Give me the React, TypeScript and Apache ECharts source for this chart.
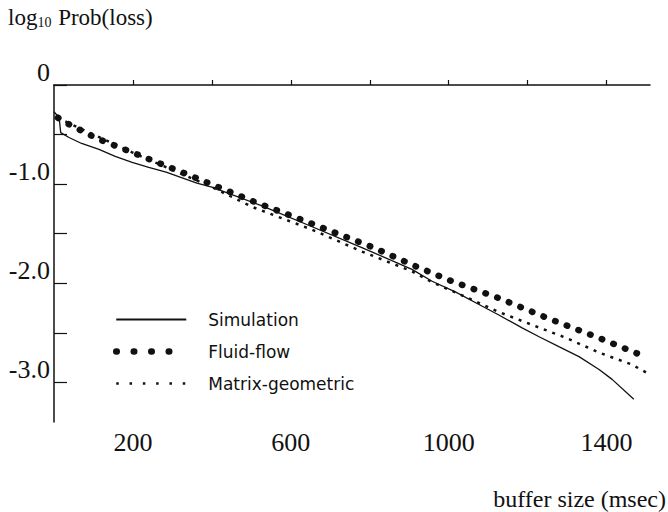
import React, { useEffect, useRef } from "react";
import * as echarts from "echarts";

const xSim = [0, 13, 17, 38, 70, 114, 155, 198, 240, 284, 362, 400, 527, 654, 780, 907, 958, 1018, 1084, 1127, 1186, 1229, 1279, 1330, 1381, 1414, 1469];
const ySim = [-0.27, -0.33, -0.48, -0.53, -0.59, -0.65, -0.72, -0.78, -0.83, -0.88, -0.99, -1.03, -1.22, -1.43, -1.64, -1.86, -1.98, -2.09, -2.23, -2.32, -2.45, -2.54, -2.64, -2.74, -2.87, -2.97, -3.17];

const xFluid = [10, 25, 109, 198, 324, 502, 654, 803, 917, 1008, 1127, 1249, 1373, 1497];
const yFluid = [-0.33, -0.37, -0.54, -0.68, -0.88, -1.17, -1.4, -1.63, -1.83, -1.98, -2.15, -2.35, -2.54, -2.74];

const xMatrix = [8, 198, 400, 502, 654, 780, 907, 958, 1044, 1127, 1211, 1297, 1381, 1464, 1500];
const yMatrix = [-0.33, -0.68, -1.03, -1.23, -1.46, -1.68, -1.88, -1.99, -2.14, -2.29, -2.42, -2.55, -2.7, -2.82, -2.9];

const xTicks = [200, 400, 600, 800, 1000, 1200, 1400];
const xLabels = [200, 600, 1000, 1400];
const yTicks = [0, -0.5, -1, -1.5, -2, -2.5, -3];
const yLabels = [0, -1, -2, -3];

const seriesNames = ["Simulation", "Fluid-flow", "Matrix-geometric"];

const pairs = (xs: number[], ys: number[]) => xs.map((x, i) => [x, ys[i]]);

export default function App() {
  const ref = useRef<HTMLDivElement>(null);
  useEffect(() => {
    if (!ref.current) return;
    const chart = echarts.init(ref.current, null, { renderer: "svg" });
    const serif = "Liberation Serif";
    chart.setOption({
      animation: false,
      backgroundColor: "#fff",
      grid: { left: 54, right: 18, top: 85, bottom: 90 },
      xAxis: {
        type: "value",
        min: 0,
        max: 1510,
        axisLine: { show: true, lineStyle: { color: "#111", width: 1.5 } },
        axisTick: { show: true, inside: true, length: 5, customValues: xTicks, lineStyle: { color: "#111", width: 1.2 } },
        axisLabel: {
          customValues: xLabels,
          fontFamily: serif,
          fontSize: 26,
          color: "#111",
          margin: 7,
          formatter: (v: number) => String(v),
        },
        splitLine: { show: false },
      },
      yAxis: {
        type: "value",
        min: -3.4,
        max: 0,
        axisLine: { show: true, lineStyle: { color: "#111", width: 1.5 } },
        axisTick: { show: true, inside: true, length: 13, customValues: yTicks, lineStyle: { color: "#111", width: 1.2 } },
        axisLabel: {
          customValues: yLabels,
          fontFamily: serif,
          fontSize: 26,
          color: "#111",
          margin: 4,
          verticalAlign: "bottom",
          lineHeight: 26,
          formatter: (v: number) => (v === 0 ? "0" : v.toFixed(1)),
        },
        splitLine: { show: false },
      },
      legend: {
        orient: "vertical",
        left: 113,
        top: 311,
        padding: 0,
        itemWidth: 70,
        itemHeight: 14,
        itemGap: 15,
        selectedMode: false,
        itemStyle: { opacity: 0, borderWidth: 0 },
        textStyle: {
          fontFamily: "DejaVu Sans",
          fontSize: 17,
          color: "#111",
          padding: [0, 0, 0, 17],
        },
        data: [
          { name: seriesNames[0] },
          { name: seriesNames[1], lineStyle: { type: [0.5, 17], width: 6.5, cap: "round" } },
          { name: seriesNames[2], lineStyle: { type: [2.5, 10.8], width: 2.5, cap: "butt" } },
        ],
      },
      series: [
        {
          name: seriesNames[0],
          type: "line",
          symbol: "none",
          data: pairs(xSim, ySim),
          lineStyle: { color: "#111", width: 1.3 },
          itemStyle: { color: "#111" },
        },
        {
          name: seriesNames[1],
          type: "line",
          symbol: "none",
          data: pairs(xFluid, yFluid),
          lineStyle: { color: "#111", width: 6.5, type: [0.5, 12], cap: "round" },
          itemStyle: { color: "#111" },
        },
        {
          name: seriesNames[2],
          type: "line",
          symbol: "none",
          data: pairs(xMatrix, yMatrix),
          lineStyle: { color: "#111", width: 2.5, type: [3, 6], cap: "butt" },
          itemStyle: { color: "#111" },
        },
      ],
      graphic: [
        {
          type: "text",
          left: 8,
          top: 6,
          style: {
            text: "{a|log}{s|10}{a| Prob(loss)}",
            rich: {
              a: { fontFamily: serif, fontSize: 23, fill: "#111", verticalAlign: "bottom", lineHeight: 26 },
              s: { fontFamily: serif, fontSize: 14, fill: "#111", verticalAlign: "bottom", lineHeight: 22, padding: [0, 1, 0, 0] },
            },
          },
        },
        {
          type: "text",
          right: 2,
          top: 487,
          style: {
            text: "buffer size (msec)",
            fontFamily: serif,
            fontSize: 24,
            fill: "#111",
          },
        },
      ],
    });
    return () => chart.dispose();
  }, []);
  return <div ref={ref} style={{ position: "absolute", left: 0, top: 0, width: 668, height: 512 }} />;
}
